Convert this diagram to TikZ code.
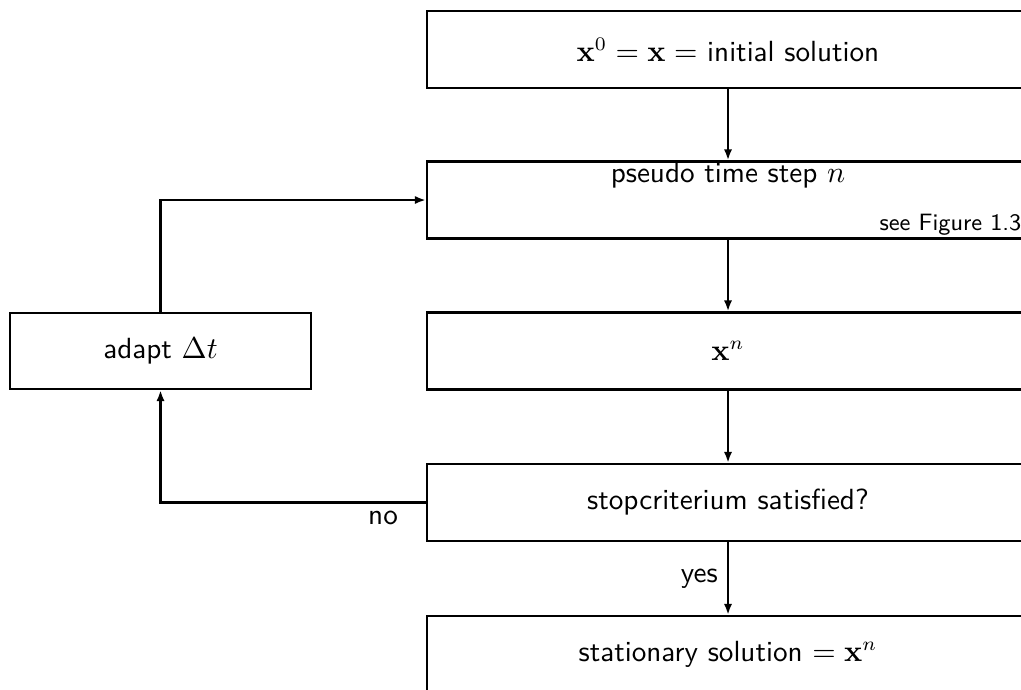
\documentclass[tikz,border=0pt]{standalone}
\usetikzlibrary{arrows.meta}
\begin{document}
\begin{tikzpicture}[x=0.3636pt,y=-0.3636pt,
  font=\sffamily\fontsize{10.6}{12.7}\selectfont,
  flowbox/.style={draw, line width=0.85pt, rectangle, minimum width=218.9pt, minimum height=28pt, inner sep=0pt},
  sidebox/.style={draw, line width=0.85pt, rectangle, minimum width=109.4pt, minimum height=27.6pt, inner sep=0pt},
  flow/.style={line width=0.85pt, -{Latex[length=4pt,width=3pt]}}]
\useasboundingbox (0,0) rectangle (1021,689);
\clip (0,0) rectangle (1021,689);

% main column
\node[flowbox] (init) at (728,49.5) {$\mathbf{x}^0=\mathbf{x}=$ initial solution};
\node[flowbox] (step) at (728,200) {};
\node (steptext) at (728,175) {pseudo time step $n$};
\node[font=\sffamily\fontsize{8.6}{10}\selectfont, anchor=south east, inner sep=1pt] (ref) at ([xshift=-2pt,yshift=0.3pt]step.south east) {see Figure 1.3};
\node[flowbox] (xn) at (728,351) {$\mathbf{x}^n$};
\node[flowbox] (stop) at (728,502.5) {stopcriterium satisfied?};
\node[flowbox] (final) at (728,654.5) {stationary solution $=\mathbf{x}^n$};

% side branch
\node[sidebox] (adapt) at (160.5,351) {adapt $\Delta t$};

% connectors
\draw[flow] (init) -- (step);
\draw[flow] (step) -- (xn);
\draw[flow] (xn) -- (stop);
\draw[flow] (stop) -- node[left, pos=0.5] (yes) {yes} (final);
\draw[flow] (stop.west) -| (adapt.south);
\node (no) at (383,518) {no};
\draw[flow] (adapt.north) |- (step.west);
\end{tikzpicture}
\end{document}
